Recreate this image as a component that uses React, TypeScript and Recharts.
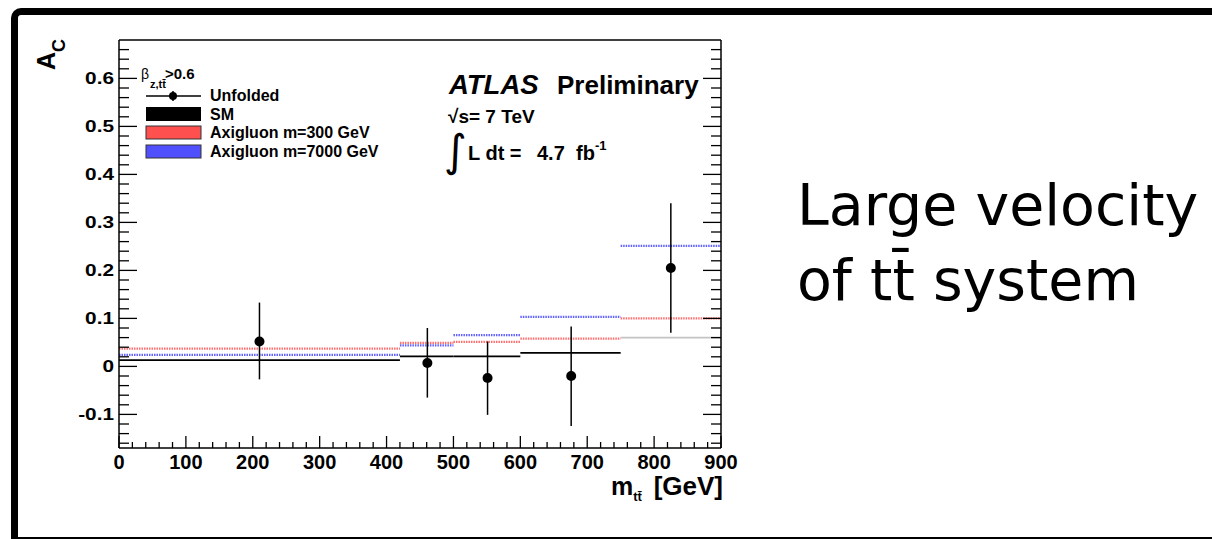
import React from "react";
import { ComposedChart, XAxis, YAxis, Scatter, ErrorBar, ReferenceLine } from "recharts";

// m_tt bins [GeV]
const binLow = [0, 420, 500, 600, 750];
const binHigh = [420, 500, 600, 750, 900];

// predictions per bin
const smValues = [0.013, 0.021, 0.021, 0.028, 0.06];
const axi300Values = [0.037, 0.049, 0.051, 0.058, 0.1];
const axi7000Values = [0.024, 0.044, 0.065, 0.103, 0.251];

// unfolded data
const unfoldedMass = [210, 461, 551, 676, 825];
const unfoldedAc = [0.052, 0.007, -0.024, -0.02, 0.205];
const unfoldedErrDown = [0.079, 0.072, 0.077, 0.104, 0.135];
const unfoldedErrUp = [0.081, 0.073, 0.076, 0.103, 0.135];

// axis ticks
const xMajorTicks = [0, 100, 200, 300, 400, 500, 600, 700, 800, 900];
const xTickLabels = ["0", "100", "200", "300", "400", "500", "600", "700", "800", "900"];
const yMajorTicks = [-0.1, 0, 0.1, 0.2, 0.3, 0.4, 0.5, 0.6];
const yTickLabels = ["-0.1", "0", "0.1", "0.2", "0.3", "0.4", "0.5", "0.6"];

const xTicks = Array.from({ length: 46 }, (_, i) => i * 20);
const yTicks = Array.from({ length: 42 }, (_, i) => Math.round((-0.16 + i * 0.02) * 100) / 100);

const X_DOMAIN: [number, number] = [0, 900];
const Y_DOMAIN: [number, number] = [-0.17, 0.68];

const points = unfoldedMass.map((x, i) => ({
  x,
  y: unfoldedAc[i],
  err: [unfoldedErrDown[i], unfoldedErrUp[i]],
}));

const ROOT_FONT = "'Liberation Sans', Arial, Helvetica, sans-serif";

const isXMajor = (v: number) => xMajorTicks.indexOf(v) >= 0;
const yMajorIndex = (v: number) => yMajorTicks.findIndex((t) => Math.abs(t - v) < 1e-6);

function BottomTick(props: any) {
  const { x, y, payload } = props;
  const v = payload.value;
  const idx = xMajorTicks.indexOf(v);
  return (
    <g>
      <line x1={x} x2={x} y1={y} y2={y - (idx >= 0 ? 12 : 6)} stroke="#000" strokeWidth={1.3} />
      {idx >= 0 && (
        <text x={x} y={y + 21} textAnchor="middle" fontFamily={ROOT_FONT} fontWeight="bold" fontSize={20} fill="#000">
          {xTickLabels[idx]}
        </text>
      )}
    </g>
  );
}

function TopTick(props: any) {
  const { x, y, payload } = props;
  return (
    <line x1={x} x2={x} y1={y} y2={y + (isXMajor(payload.value) ? 12 : 6)} stroke="#000" strokeWidth={1.3} />
  );
}

function LeftTick(props: any) {
  const { x, y, payload } = props;
  const idx = yMajorIndex(payload.value);
  return (
    <g>
      <line x1={x} x2={x + (idx >= 0 ? 18 : 10)} y1={y} y2={y} stroke="#000" strokeWidth={1.3} />
      {idx >= 0 && (
        <text
          transform={`translate(${x - 5},${y + 6}) scale(1.3,1)`}
          textAnchor="end"
          fontFamily={ROOT_FONT}
          fontWeight="bold"
          fontSize={16}
          fill="#000"
        >
          {yTickLabels[idx]}
        </text>
      )}
    </g>
  );
}

function RightTick(props: any) {
  const { x, y, payload } = props;
  const major = yMajorIndex(payload.value) >= 0;
  return <line x1={x} x2={x - (major ? 18 : 10)} y1={y} y2={y} stroke="#000" strokeWidth={1.3} />;
}

function Dot(props: any) {
  return <circle cx={props.cx} cy={props.cy} r={5} fill="#000" />;
}

function Annotations() {
  const bold = { fontFamily: ROOT_FONT, fontWeight: "bold" as const, fill: "#000" };
  return (
    <svg width={1212} height={539} style={{ position: "absolute", left: 0, top: 0, pointerEvents: "none" }}>
      {/* y title */}
      <text transform="translate(55,70) rotate(-90)" {...bold} fontSize={25}>
        A<tspan fontSize={18} dy={10}>C</tspan>
      </text>
      {/* x title */}
      <text x={611} y={495} {...bold} fontSize={25}>
        m<tspan fontSize={13} dy={6}>{"tt\u0304"}</tspan>
      </text>
      <text x={723} y={495} textAnchor="end" {...bold} fontSize={26}>
        [GeV]
      </text>

      {/* legend */}
      <text x={141} y={79} fontFamily={ROOT_FONT} fontSize={14} fill="#000">
        β
      </text>
      <text x={150} y={88} {...bold} fontSize={11}>
        {"z,tt\u0304"}
      </text>
      <text x={165} y={79} {...bold} fontSize={15}>
        {">0.6"}
      </text>
      <line x1={146} x2={201} y1={96} y2={96} stroke="#000" strokeWidth={1.5} />
      <line x1={173} x2={173} y1={91} y2={101} stroke="#000" strokeWidth={1.5} />
      <circle cx={173} cy={96} r={4} fill="#000" />
      <text x={210} y={101} {...bold} fontSize={16}>
        Unfolded
      </text>
      <rect x={146} y={107} width={55} height={14} fill="#000" />
      <text x={210} y={120} {...bold} fontSize={16}>
        SM
      </text>
      <rect x={146} y={126} width={55} height={13} fill="#ff5050" stroke="#333" strokeWidth={1} />
      <text x={210} y={138} {...bold} fontSize={16}>
        Axigluon m=300 GeV
      </text>
      <rect x={146} y={145} width={55} height={13} fill="#5050ff" stroke="#333" strokeWidth={1} />
      <text x={210} y={157} {...bold} fontSize={16}>
        Axigluon m=7000 GeV
      </text>

      {/* ATLAS label */}
      <text x={449} y={94} {...bold} fontStyle="italic" fontSize={27.5}>
        ATLAS
      </text>
      <text x={557} y={94} {...bold} fontSize={26}>
        Preliminary
      </text>
      <text x={448} y={123} {...bold} fontSize={19}>
        √s= 7 TeV
      </text>
      <text x={444} y={166} fontFamily="'DejaVu Sans', sans-serif" fontSize={44} fill="#000">
        ∫
      </text>
      <text x={468} y={160} {...bold} fontSize={20}>
        L dt =
      </text>
      <text x={537} y={160} {...bold} fontSize={20}>
        4.7
      </text>
      <text x={576} y={160} {...bold} fontSize={20}>
        fb<tspan fontSize={13} dy={-10}>-1</tspan>
      </text>

      {/* slide text */}
      <text x={797} y={225} fontFamily="'DejaVu Sans', Verdana, sans-serif" fontSize={57} fill="#000">
        Large velocity
      </text>
      <text x={797} y={300} fontFamily="'DejaVu Sans', Verdana, sans-serif" fontSize={57} fill="#000">
        {"of tt\u0304 system"}
      </text>
    </svg>
  );
}

export default function App() {
  return (
    <div style={{ position: "absolute", left: 0, top: 0, width: 1212, height: 539, overflow: "hidden", background: "#fff" }}>
      <div
        style={{
          position: "absolute",
          left: 11,
          top: 8,
          width: 1400,
          height: 536,
          boxSizing: "border-box",
          borderTop: "7px solid #000",
          borderLeft: "7px solid #000",
          borderBottom: "7px solid #000",
          borderTopLeftRadius: 10,
        }}
      />
      <div style={{ position: "absolute", left: 0, top: 0 }}>
        <ComposedChart width={1212} height={539} margin={{ top: 39, right: 490, bottom: 51, left: 59 }}>
          <XAxis
            xAxisId="top"
            orientation="top"
            type="number"
            domain={X_DOMAIN}
            allowDataOverflow
            ticks={xTicks}
            interval={0}
            height={1}
            tickSize={0}
            tickMargin={0}
            tickLine={false}
            axisLine={{ stroke: "#000", strokeWidth: 1.5 }}
            tick={TopTick}
          />
          <XAxis
            dataKey="x"
            type="number"
            domain={X_DOMAIN}
            allowDataOverflow
            ticks={xTicks}
            interval={0}
            height={40}
            tickSize={0}
            tickMargin={0}
            tickLine={false}
            axisLine={{ stroke: "#000", strokeWidth: 1.5 }}
            tick={BottomTick}
          />
          <YAxis
            dataKey="y"
            type="number"
            domain={Y_DOMAIN}
            allowDataOverflow
            ticks={yTicks}
            interval={0}
            width={60}
            tickSize={0}
            tickMargin={0}
            tickLine={false}
            axisLine={{ stroke: "#000", strokeWidth: 1.5 }}
            tick={LeftTick}
          />
          <YAxis
            yAxisId="right"
            orientation="right"
            type="number"
            domain={Y_DOMAIN}
            allowDataOverflow
            ticks={yTicks}
            interval={0}
            width={1}
            tickSize={0}
            tickMargin={0}
            tickLine={false}
            axisLine={{ stroke: "#000", strokeWidth: 1.5 }}
            tick={RightTick}
          />

          {binLow.map((lo, i) => (
            <ReferenceLine
              key={`sm-${i}`}
              segment={[
                { x: lo, y: smValues[i] },
                { x: binHigh[i], y: smValues[i] },
              ]}
              stroke={i === binLow.length - 1 ? "#c4c4c4" : "#000"}
              strokeWidth={1.8}
            />
          ))}
          {binLow.map((lo, i) => (
            <ReferenceLine
              key={`a300-${i}`}
              segment={[
                { x: lo, y: axi300Values[i] },
                { x: binHigh[i], y: axi300Values[i] },
              ]}
              stroke="#ff4a4a"
              strokeOpacity={0.8}
              strokeWidth={2.2}
              strokeDasharray="1.5 1"
            />
          ))}
          {binLow.map((lo, i) => (
            <ReferenceLine
              key={`a7000-${i}`}
              segment={[
                { x: lo, y: axi7000Values[i] },
                { x: binHigh[i], y: axi7000Values[i] },
              ]}
              stroke="#3a3aff"
              strokeOpacity={0.8}
              strokeWidth={2.2}
              strokeDasharray="1.5 1"
            />
          ))}

          <Scatter data={points} dataKey="y" shape={Dot} isAnimationActive={false}>
            <ErrorBar dataKey="err" direction="y" width={0} stroke="#000" strokeWidth={1.5} isAnimationActive={false} />
          </Scatter>
        </ComposedChart>
      </div>
      <Annotations />
    </div>
  );
}
